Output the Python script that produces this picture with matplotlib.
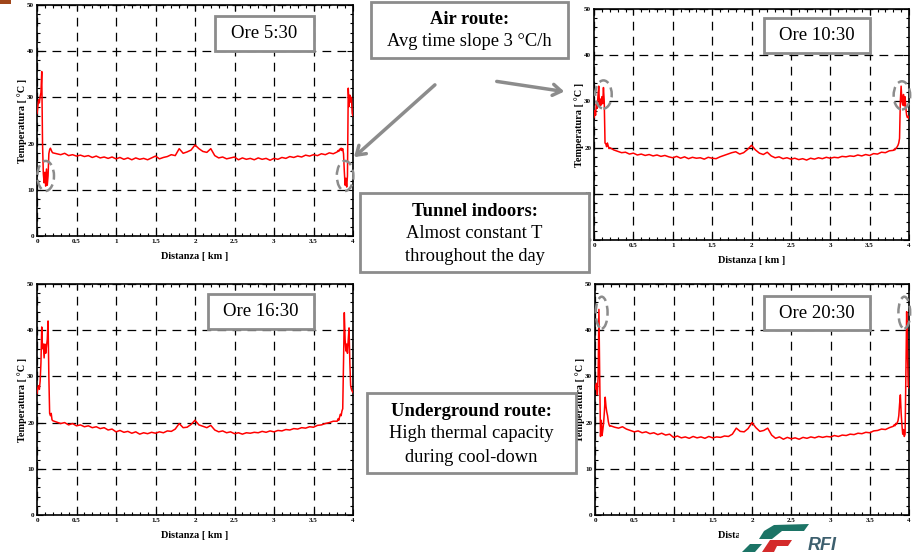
import matplotlib
matplotlib.use("Agg")
import matplotlib.pyplot as plt
from matplotlib.patches import Ellipse, Rectangle, FancyArrowPatch, Polygon
from matplotlib.ticker import MultipleLocator

plt.rcParams['font.family'] = ['Liberation Serif', 'DejaVu Serif']

# distance along the tunnel [km]: fine sampling at the portals, coarser inside
dist_west = [0.00, 0.01, 0.02, 0.03, 0.04, 0.05, 0.06, 0.07, 0.08, 0.09,
             0.10, 0.11, 0.12, 0.13, 0.14, 0.15, 0.16, 0.17, 0.18, 0.19]
dist_mid = [0.20, 0.25, 0.30, 0.35, 0.40, 0.45, 0.50, 0.55,
            0.60, 0.65, 0.70, 0.75, 0.80, 0.85, 0.90, 0.95,
            1.00, 1.05, 1.10, 1.15, 1.20, 1.25, 1.30, 1.35,
            1.40, 1.45, 1.50, 1.55, 1.60, 1.65, 1.70, 1.75,
            1.80, 1.85, 1.90, 1.95, 2.00, 2.05, 2.10, 2.15,
            2.20, 2.25, 2.30, 2.35, 2.40, 2.45, 2.50, 2.55,
            2.60, 2.65, 2.70, 2.75, 2.80, 2.85, 2.90, 2.95,
            3.00, 3.05, 3.10, 3.15, 3.20, 3.25, 3.30, 3.35,
            3.40, 3.45, 3.50, 3.55, 3.60, 3.65, 3.70, 3.75]
dist_east = [3.80, 3.81, 3.82, 3.83, 3.84, 3.85, 3.86, 3.87, 3.88, 3.89, 3.90,
             3.91, 3.92, 3.93, 3.94, 3.95, 3.96, 3.97, 3.98, 3.99, 4.00]
distanza = dist_west + dist_mid + dist_east

# temperature [°C]
temp_0530 = (
    [26.5, 27.8, 29.5, 28.8, 30.2, 31.0, 35.6, 20.0, 13.5, 11.5,
     13.8, 10.8, 14.5, 11.0, 13.0, 17.8, 18.7, 19.0, 18.6, 18.2]
    + [18.0, 17.8, 17.6, 17.9, 17.4, 17.6, 17.3, 17.5,
       17.2, 17.4, 17.0, 17.3, 16.9, 17.1, 16.8, 17.1,
       16.7, 17.0, 16.6, 16.9, 16.5, 16.9, 16.6, 16.8,
       16.5, 16.9, 17.3, 16.7, 17.0, 17.2, 17.6, 17.4,
       18.9, 17.9, 18.2, 18.6, 19.7, 18.9, 18.3, 18.1,
       18.9, 17.4, 16.9, 17.1, 16.7, 16.9, 17.1, 16.5,
       16.9, 16.6, 16.8, 16.5, 16.9, 16.6, 16.8, 16.4,
       16.8, 16.6, 17.0, 16.8, 17.2, 17.0, 17.3, 17.1,
       17.5, 17.3, 17.6, 17.4, 17.8, 17.6, 18.0, 17.8]
    + [18.2, 18.5, 18.3, 18.8, 18.6, 19.0, 18.5, 18.9, 17.8, 14.0, 11.0,
       12.5, 10.6, 13.0, 32.0, 28.0, 30.5, 29.0, 30.0, 26.5, 26.0])
temp_1030 = (
    [26.5, 28.0, 27.0, 29.5, 28.5, 31.0, 33.3, 29.0, 30.5, 29.2,
     31.0, 29.5, 33.0, 30.0, 21.0, 20.8, 20.2, 21.0, 20.4, 19.8]
    + [20.0, 19.5, 19.2, 18.9, 19.0, 18.6, 18.8, 18.4,
       18.6, 18.3, 18.5, 18.2, 18.4, 18.1, 18.3, 18.0,
       17.8, 18.1, 17.7, 18.0, 17.6, 17.9, 17.7, 17.8,
       17.5, 17.9, 17.7, 17.6, 18.0, 18.3, 18.6, 18.9,
       19.1, 18.6, 18.9, 19.6, 20.5, 19.5, 18.8, 18.5,
       19.0, 18.2, 17.8, 18.0, 17.6, 17.8, 17.5, 17.7,
       17.4, 17.6, 17.3, 17.7, 17.5, 17.8, 17.6, 17.9,
       17.7, 17.9, 17.8, 18.1, 18.0, 18.2, 18.1, 18.4,
       18.2, 18.5, 18.3, 18.7, 18.6, 19.0, 18.9, 19.3]
    + [19.4, 19.6, 19.5, 19.8, 19.9, 20.2, 20.5, 21.0, 22.0, 30.0, 33.3,
       30.0, 29.2, 31.5, 29.0, 31.0, 28.5, 27.0, 26.5, 26.8, 26.3])
temp_1630 = (
    [26.3, 27.5, 28.0, 27.2, 29.0, 33.0, 40.7, 36.0, 37.0, 34.0,
     37.0, 35.0, 36.5, 38.0, 42.0, 30.0, 22.0, 21.5, 22.0, 20.6]
    + [20.4, 20.1, 19.8, 20.0, 19.5, 19.8, 19.3, 19.5,
       19.1, 19.3, 18.9, 19.1, 18.7, 18.9, 18.4, 18.6,
       18.0, 18.3, 17.9, 18.1, 17.7, 18.0, 17.5, 17.8,
       17.6, 17.9, 17.7, 18.0, 17.8, 18.2, 18.1, 18.6,
       19.8, 18.9, 19.0, 19.6, 20.5, 19.5, 19.2, 18.9,
       19.4, 18.4, 18.0, 18.2, 17.8, 18.0, 17.6, 17.8,
       17.5, 17.8, 17.7, 17.9, 17.8, 18.1, 17.9, 18.2,
       18.0, 18.3, 18.2, 18.5, 18.4, 18.7, 18.6, 18.9,
       18.8, 19.1, 19.0, 19.4, 19.5, 19.8, 20.0, 20.3]
    + [20.3, 20.8, 20.5, 21.2, 21.8, 21.5, 22.5, 23.0, 33.0, 43.8, 38.0,
       35.5, 37.0, 35.0, 38.0, 40.5, 33.0, 28.0, 27.2, 26.8, 26.5])
temp_2030 = (
    [27.2, 28.0, 28.5, 26.0, 30.0, 44.5, 30.0, 17.0, 20.5, 17.2,
     18.5, 20.0, 22.5, 25.5, 23.5, 22.3, 21.5, 20.2, 19.5, 19.2]
    + [19.3, 19.0, 18.8, 19.1, 18.6, 18.3, 18.0, 18.2,
       17.8, 18.0, 17.6, 17.8, 17.4, 17.7, 17.3, 17.5,
       16.8, 17.1, 16.7, 16.9, 16.6, 17.0, 16.7, 16.9,
       16.6, 17.0, 16.7, 16.9, 16.8, 17.1, 17.0, 17.5,
       18.8, 18.1, 18.0, 18.7, 20.0, 18.9, 18.1, 18.3,
       18.8, 17.3, 16.6, 16.9, 16.4, 16.8, 16.5, 16.7,
       16.4, 16.8, 16.6, 16.9, 16.7, 17.0, 16.8, 17.0,
       16.9, 17.2, 17.0, 17.3, 17.2, 17.5, 17.4, 17.7,
       17.6, 17.9, 17.8, 18.2, 18.3, 18.6, 18.5, 18.9]
    + [19.2, 19.5, 19.3, 19.8, 19.6, 20.0, 20.4, 21.5, 24.0, 26.0, 22.0,
       19.5, 17.5, 18.5, 17.0, 17.5, 30.0, 44.0, 36.0, 28.0, 27.5])

labels = ["Ore 5:30", "Ore 10:30", "Ore 16:30", "Ore 20:30"]
profiles = [temp_0530, temp_1030, temp_1630, temp_2030]

# dashed circles on the portal peaks: (x, y, width, height) in data units
highlights = [
    [(0.11, 13.0, 0.21, 6.5), (3.90, 13.0, 0.21, 6.5)],
    [(0.12, 31.5, 0.21, 6.1), (3.91, 31.3, 0.21, 6.1)],
    [],
    [(0.085, 43.8, 0.15, 6.9), (3.94, 43.8, 0.15, 6.9)],
]

W, H = 913, 552
fig = plt.figure(figsize=(W / 100, H / 100), dpi=100)

# axes rectangles in pixels: left, top, right, bottom
ax_px = [(37, 5, 353, 236), (594, 9, 909, 240),
         (37, 284, 353, 515), (595, 284, 909, 515)]
label_px = [(215, 16, 314, 51), (764, 18, 870, 53),
            (208, 294, 314, 329), (764, 296, 870, 330)]

GRAY = '#8c8c8c'

for (l, t, r, b), (bl, bt, br, bb), lab, temp, hl in zip(
        ax_px, label_px, labels, profiles, highlights):
    ax = fig.add_axes([l / W, 1 - b / H, (r - l) / W, (b - t) / H])
    ax.plot(distanza, temp, color='red', lw=1.1, zorder=3)
    ax.set_xlim(0, 4)
    ax.set_ylim(0, 50)
    ax.xaxis.set_minor_locator(MultipleLocator(0.1))
    ax.yaxis.set_major_locator(MultipleLocator(10))
    ax.yaxis.set_minor_locator(MultipleLocator(2))
    ax.set_xticks([0, 0.5, 1, 1.5, 2, 2.5, 3, 3.5, 4])
    ax.set_xticklabels(['0', '0.5', '1', '1.5', '2', '2.5', '3', '3.5', '4'])
    ax.tick_params(which='both', direction='in', top=True, right=True,
                   labelsize=5, pad=2, width=0.8)
    ax.tick_params(which='major', length=4)
    ax.tick_params(which='minor', length=2)
    for tl in ax.get_xticklabels() + ax.get_yticklabels():
        tl.set_fontweight('bold')
    ax.grid(True, which='major', color='black', lw=0.9,
            linestyle=(0, (7, 5)), zorder=1)
    for s in ax.spines.values():
        s.set_linewidth(1.2)
    ax.set_xlabel('Distanza [ km ]', fontsize=7.4, fontweight='bold', labelpad=6)
    ax.set_ylabel('Temperatura [ °C ]', fontsize=7.4, fontweight='bold', labelpad=0)

    # time label box
    x0 = (bl - l) / (r - l)
    x1 = (br - l) / (r - l)
    y0 = (b - bb) / (b - t)
    y1 = (b - bt) / (b - t)
    ax.add_patch(Rectangle((x0, y0), x1 - x0, y1 - y0, transform=ax.transAxes,
                           facecolor='white', edgecolor=GRAY, lw=2, zorder=5))
    ax.text((x0 + x1) / 2, (y0 + y1) / 2, lab, transform=ax.transAxes,
            ha='center', va='center', fontsize=13.5, zorder=6)

    for (cx, cy, ew, eh) in hl:
        ax.add_patch(Ellipse((cx, cy), ew, eh, fill=False, edgecolor=GRAY,
                             lw=1.8, linestyle=(0, (4, 2)), zorder=4,
                             clip_on=False))


def fig_box(x0, y0, x1, y1, lines, offsets):
    fig.patches.append(Rectangle((x0 / W, 1 - y1 / H), (x1 - x0) / W,
                                 (y1 - y0) / H, transform=fig.transFigure,
                                 facecolor='white', edgecolor=GRAY, lw=2,
                                 zorder=5))
    for i, (txt, off) in enumerate(zip(lines, offsets)):
        fig.text((x0 + x1) / 2 / W, 1 - (y0 + off) / H, txt,
                 ha='center', va='center', fontsize=13.3,
                 fontweight='bold' if i == 0 else 'normal', zorder=6)


fig_box(371, 2, 568, 58, ['Air route:', 'Avg time slope 3 °C/h'], [18, 40])
fig_box(360, 193, 589, 272,
        ['Tunnel indoors:', 'Almost constant T', 'throughout the day'],
        [19, 41, 63])
fig_box(367, 393, 576, 473,
        ['Underground route:', 'High thermal capacity', 'during cool-down'],
        [19, 41, 64])

for (sx, sy), (ex, ey) in [((437, 83), (352, 159)), ((494, 81), (567, 92))]:
    fig.patches.append(FancyArrowPatch(
        (sx / W, 1 - sy / H), (ex / W, 1 - ey / H), transform=fig.transFigure,
        arrowstyle='->,head_length=6,head_width=4', color=GRAY, lw=2.5,
        zorder=5))

# corner mark of the slide
fig.patches.append(Rectangle((0, 1 - 4 / H), 11 / W, 4 / H,
                             transform=fig.transFigure, facecolor='#a0461a',
                             edgecolor='none'))


# slide logo in the bottom-right corner
def px_poly(pts, color):
    fig.patches.append(Polygon([(x / W, 1 - y / H) for x, y in pts],
                               closed=True, transform=fig.transFigure,
                               facecolor=color, edgecolor='none', zorder=8))


fig.patches.append(Rectangle((739 / W, 0), (902 - 739) / W, (H - 522) / H,
                             transform=fig.transFigure, facecolor='white',
                             edgecolor='none', zorder=7))
px_poly([(774, 525), (809, 524), (804, 531), (782, 531), (772, 539),
         (759, 539), (764, 531)], '#1c7466')
px_poly([(750, 544), (762, 544), (755, 552), (742, 552)], '#1c7466')
px_poly([(770, 540), (792, 540), (788, 546), (777, 546), (774, 552),
         (762, 552)], '#d42b2b')
fig.text(808 / W, 1 - 545 / H, 'RFI', fontsize=13, fontstyle='italic',
         fontweight='bold', color='#3d5f6e', ha='left', va='center',
         family=['Liberation Sans', 'DejaVu Sans'], zorder=9)

fig.savefig('out.png', dpi=100)
